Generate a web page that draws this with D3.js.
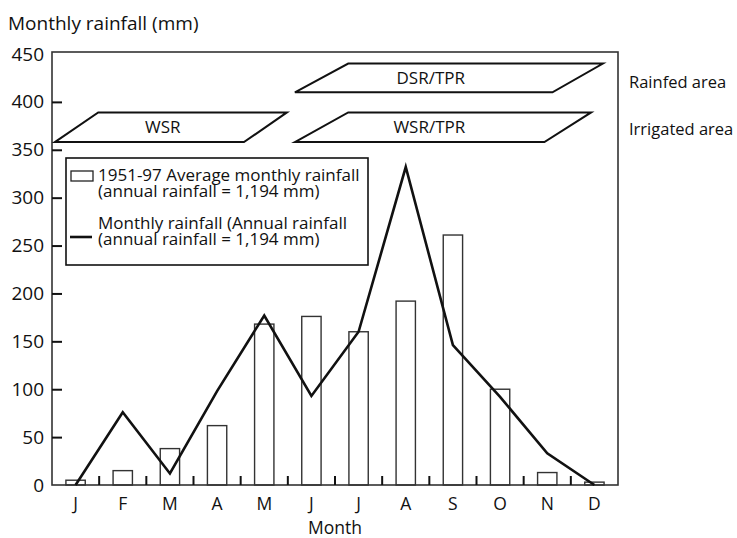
<!DOCTYPE html>
<html>
<head>
<meta charset="utf-8">
<script src="https://cdn.jsdelivr.net/npm/d3@7/dist/d3.min.js"></script>
<style>
  html, body { margin: 0; padding: 0; background: #fff; }
  svg text { font-family: "Open Sans", "Liberation Sans", sans-serif; fill: #111; }
</style>
</head>
<body>
<svg id="chart" width="737" height="538"></svg>
<script>
// ---- data ----
const months = ["J","F","M","A","M","J","J","A","S","O","N","D"];
const avgRainfall = [5, 15, 38, 62, 168, 176, 160, 192, 261, 100, 13, 3];
const monthlyRainfall = [0, 76, 12, 98, 177, 93, 160, 332, 146, 92, 33, 0];
const yTicks = [0, 50, 100, 150, 200, 250, 300, 350, 400, 450];
// crop-establishment regimes: month positions (0 = start of Jan) and rainfall levels
const regimeNames = ["WSR", "DSR/TPR", "WSR/TPR"];
const regimeBottomStart = [0.06, 5.15, 5.15];
const regimeBottomEnd   = [4.07, 10.61, 10.44];
const regimeTopStart    = [0.98, 6.28, 6.28];
const regimeTopEnd      = [4.98, 11.68, 11.43];
const regimeLow  = [358, 410, 358];
const regimeHigh = [389, 440, 389];
const regimeLabelAt = [2.35, 8.03, 8.0];
const areaLabels = ["Rainfed area", "Irrigated area"];
const areaLevels = [421, 371];
const legendLabels = [
  ["1951-97 Average monthly rainfall", "(annual rainfall = 1,194 mm)"],
  ["Monthly rainfall (Annual rainfall", "(annual rainfall = 1,194 mm)"]
];

// ---- layout ----
const svg = d3.select("#chart");
const L = 52, R = 618, T = 52, B = 485;
const idx = d3.range(months.length);
const x = d3.scaleBand().domain(idx).range([L, R]).padding(0);
const xc = d3.scaleLinear().domain([0, 12]).range([L, R]);
const y = d3.scaleLinear().domain([0, 450]).range([B, 54]);
const bw = x.bandwidth() * 0.41;

// bars
svg.append("g").selectAll("rect").data(avgRainfall).join("rect")
  .attr("x", (d, i) => x(i) + (x.bandwidth() - bw) / 2)
  .attr("y", d => y(d))
  .attr("width", bw)
  .attr("height", d => B - y(d))
  .attr("fill", "#fff")
  .attr("stroke", "#333")
  .attr("stroke-width", 1.4);

// frame
svg.append("rect").attr("x", L).attr("y", T).attr("width", R - L).attr("height", B - T)
  .attr("fill", "none").attr("stroke", "#333").attr("stroke-width", 1.6);

// y axis
const yAxis = d3.axisLeft(y).tickValues(yTicks).tickSizeInner(-10).tickSizeOuter(0).tickPadding(8);
const gy = svg.append("g").attr("transform", `translate(${L},0)`).call(yAxis);
gy.select(".domain").remove();
gy.selectAll(".tick line").attr("stroke", "#111").attr("stroke-width", 2);
gy.selectAll(".tick text").attr("font-size", 19).attr("font-family", null).attr("fill", "#111");
gy.selectAll(".tick").filter(d => d === 0 || d === 450).select("line").remove();

// x axis
const xAxis = d3.axisBottom(x).tickFormat(i => months[i]).tickSize(0).tickPadding(13);
const gx = svg.append("g").attr("transform", `translate(0,${B})`).call(xAxis);
gx.select(".domain").remove();
gx.selectAll(".tick text").attr("font-size", 17.5).attr("font-family", null).attr("fill", "#111");
svg.append("g").selectAll("line").data(idx.slice(1)).join("line")
  .attr("x1", i => x(i)).attr("x2", i => x(i))
  .attr("y1", B).attr("y2", B - 9)
  .attr("stroke", "#111").attr("stroke-width", 2);

// line
svg.append("path").datum(monthlyRainfall)
  .attr("fill", "none").attr("stroke", "#111").attr("stroke-width", 2.6)
  .attr("stroke-linejoin", "miter")
  .attr("d", d3.line().x((d, i) => x(i) + x.bandwidth() / 2).y(d => y(d)));

// regime parallelograms
const rg = svg.append("g");
regimeNames.forEach((name, k) => {
  const pts = [
    [xc(regimeBottomStart[k]), y(regimeLow[k])],
    [xc(regimeTopStart[k]), y(regimeHigh[k])],
    [xc(regimeTopEnd[k]), y(regimeHigh[k])],
    [xc(regimeBottomEnd[k]), y(regimeLow[k])]
  ];
  rg.append("path").attr("d", d3.line()(pts) + "Z")
    .attr("fill", "#fff").attr("stroke", "#111").attr("stroke-width", 2);
  rg.append("text").attr("x", xc(regimeLabelAt[k])).attr("y", y((regimeLow[k] + regimeHigh[k]) / 2))
    .attr("dy", "0.35em").attr("text-anchor", "middle").attr("font-size", 17).text(name);
});

// area labels
svg.append("g").selectAll("text").data(areaLabels).join("text")
  .attr("x", 629).attr("y", (d, i) => y(areaLevels[i])).attr("dy", "0.35em")
  .attr("font-size", 16.5).text(d => d);

// legend
const lg = svg.append("g");
lg.append("rect").attr("x", 66).attr("y", 158).attr("width", 302).attr("height", 107)
  .attr("fill", "#fff").attr("stroke", "#111").attr("stroke-width", 1.6);
lg.append("rect").attr("x", 71).attr("y", 171).attr("width", 22).attr("height", 10)
  .attr("fill", "#fff").attr("stroke", "#222").attr("stroke-width", 1.3);
lg.append("line").attr("x1", 70).attr("x2", 92).attr("y1", 237).attr("y2", 237)
  .attr("stroke", "#111").attr("stroke-width", 2.6);
const lgY = [181, 229];
legendLabels.forEach((lines, k) => {
  const t = lg.append("text").attr("x", 98).attr("y", lgY[k]).attr("font-size", 17);
  lines.forEach((s, j) => {
    t.append("tspan").attr("x", 98).attr("dy", j === 0 ? 0 : 15.5).text(s);
  });
});

// titles
svg.append("text").attr("x", 8).attr("y", 30).attr("font-size", 19).text("Monthly rainfall (mm)");
svg.append("text").attr("x", xc(6)).attr("y", 534).attr("text-anchor", "middle").attr("font-size", 17.5).text("Month");
</script>
</body>
</html>
